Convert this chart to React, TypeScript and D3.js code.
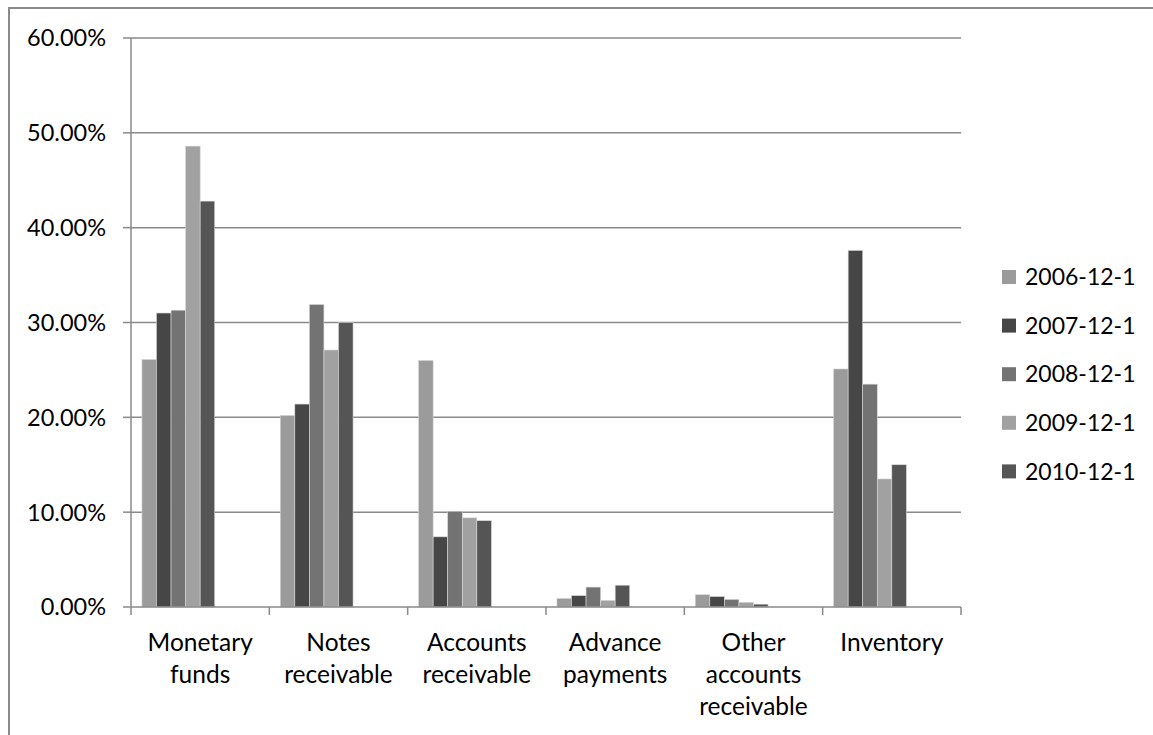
import React from 'react';
import * as d3 from 'd3';

// categories (x axis), series names (legend) and values in percent
const categories = [
  ['Monetary', 'funds'],
  ['Notes', 'receivable'],
  ['Accounts', 'receivable'],
  ['Advance', 'payments'],
  ['Other', 'accounts', 'receivable'],
  ['Inventory'],
];
const seriesNames = ['2006-12-1', '2007-12-1', '2008-12-1', '2009-12-1', '2010-12-1'];
const v2006 = [26.1, 20.2, 26.0, 0.9, 1.3, 25.1];
const v2007 = [31.0, 21.4, 7.4, 1.2, 1.1, 37.6];
const v2008 = [31.3, 31.9, 10.1, 2.1, 0.8, 23.5];
const v2009 = [48.6, 27.1, 9.4, 0.7, 0.5, 13.5];
const v2010 = [42.8, 30.0, 9.1, 2.3, 0.3, 15.0];
const seriesValues = [v2006, v2007, v2008, v2009, v2010];
const yTicks = [0, 10, 20, 30, 40, 50, 60];

const colors = ['#9b9b9b', '#464646', '#737373', '#a1a1a1', '#555555'];
const axisGray = '#8a8a8a';
const font = 'Lato, "Open Sans", sans-serif';

const App: React.FC = () => {
  const W = 1153;
  const H = 735;
  const plot = { left: 131, right: 961, top: 38, bottom: 607 };

  const x = d3.scaleBand<number>()
    .domain(d3.range(categories.length))
    .range([plot.left, plot.right])
    .paddingInner(0)
    .paddingOuter(0);

  // Excel-style clustered bars: 8 slots in each group (3 are empty), gap width 150%
  const slot = d3.scaleBand<number>()
    .domain(d3.range(8))
    .range([0, x.bandwidth()])
    .paddingInner(0)
    .paddingOuter(0.75);

  const y = d3.scaleLinear().domain([0, 60]).range([plot.bottom, plot.top]);

  const tickEdges = d3.range(categories.length + 1).map(i =>
    i < categories.length ? x(i)! : x(categories.length - 1)! + x.bandwidth()
  );

  return (
    <svg width={W} height={H} style={{ position: 'absolute', left: 0, top: 0, background: '#fff' }}>
      {/* chart area border */}
      <path d={`M9,${H + 5} V8 H${W + 5}`} fill="none" stroke={axisGray} strokeWidth={2} />

      {/* gridlines + y labels */}
      {yTicks.map(t => (
        <g key={t}>
          {t > 0 && (
            <line x1={plot.left} x2={plot.right} y1={y(t)} y2={y(t)} stroke={axisGray} strokeWidth={1.5} />
          )}
          <line x1={plot.left - 8} x2={plot.left} y1={y(t)} y2={y(t)} stroke={axisGray} strokeWidth={1.5} />
          <text x={106} y={y(t)} dy="0.36em" textAnchor="end" fontFamily={font} fontSize={23.5} fill="#000">
            {t.toFixed(2)}%
          </text>
        </g>
      ))}

      {/* bars */}
      {seriesValues.map((vals, s) => (
        <g key={s} fill={colors[s]}>
          {vals.map((v, c) => (
            <rect
              key={c}
              x={x(c)! + slot(s)!}
              y={y(v)}
              width={slot.bandwidth()}
              height={y(0) - y(v)}
              stroke="#d8d8d8"
              strokeWidth={0.6}
            />
          ))}
        </g>
      ))}

      {/* axes */}
      <line x1={plot.left} x2={plot.left} y1={plot.top} y2={plot.bottom} stroke={axisGray} strokeWidth={1.5} />
      <line x1={plot.left} x2={plot.right} y1={plot.bottom} y2={plot.bottom} stroke={axisGray} strokeWidth={1.5} />
      {tickEdges.map((tx, i) => (
        <line key={i} x1={tx} x2={tx} y1={plot.bottom} y2={plot.bottom + 8} stroke={axisGray} strokeWidth={1.5} />
      ))}

      {/* category labels */}
      {categories.map((lines, c) => (
        <text key={c} textAnchor="middle" fontFamily={font} fontSize={24.5} fill="#000">
          {lines.map((l, i) => (
            <tspan key={i} x={x(c)! + x.bandwidth() / 2} y={651 + i * 32}>{l}</tspan>
          ))}
        </text>
      ))}

      {/* legend */}
      {seriesNames.map((name, s) => {
        const cy = 277 + s * 48.6;
        return (
          <g key={name}>
            <rect x={1002} y={cy - 7} width={14} height={14} fill={colors[s]} />
            <text x={1025} y={cy} dy="0.36em" fontFamily={font} fontSize={23} fill="#000">{name}</text>
          </g>
        );
      })}
    </svg>
  );
};

export default App;
